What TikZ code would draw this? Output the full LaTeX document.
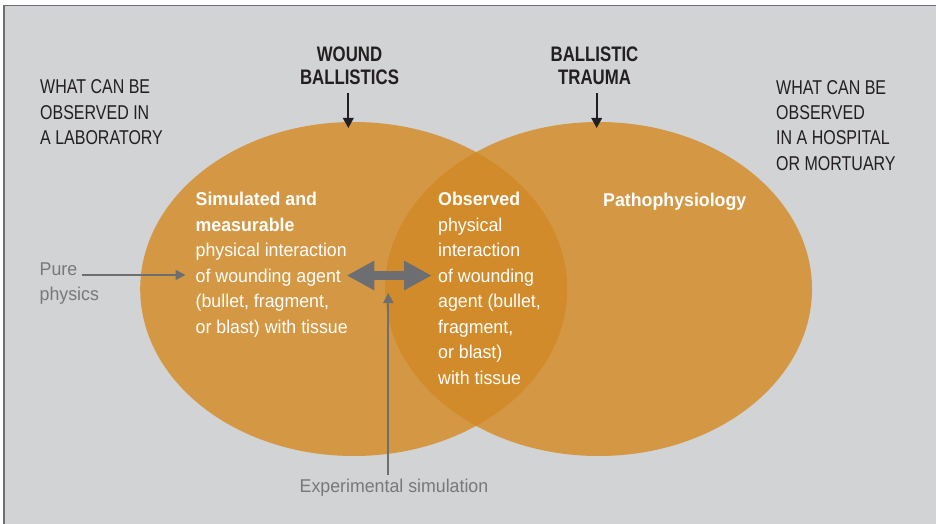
\documentclass[tikz,border=0pt]{standalone}
\usepackage{fontspec}
\setmainfont{Liberation Sans}[FakeStretch=0.96]
\newfontfamily\capsfont{Liberation Sans}[FakeStretch=0.8]
\usetikzlibrary{arrows.meta}

\definecolor{panelgray}{HTML}{D1D3D4}
\definecolor{framegray}{HTML}{6D6E71}
\definecolor{lensorange}{HTML}{D49743}
\definecolor{overlaporange}{HTML}{D18B2A}
\definecolor{notegray}{HTML}{77787B}
\definecolor{inkblack}{HTML}{231F20}

\tikzset{
  caption/.style={anchor=base west, align=left, inner sep=0pt, text=inkblack,
    font=\capsfont\fontsize{20}{25.3}\selectfont},
  heading/.style={anchor=base, align=center, inner xsep=0pt, inner ysep=8pt, text=inkblack,
    font=\capsfont\bfseries\fontsize{21}{24}\selectfont},
  bodytext/.style={anchor=base west, align=left, inner sep=0pt, text=white,
    font=\fontsize{18.5}{25.5}\selectfont},
  note/.style={align=left, inner xsep=0pt, inner ysep=4pt, text=notegray,
    font=\fontsize{18.5}{25}\selectfont},
  blackpointer/.style={draw=inkblack, line width=2pt, -{Triangle[width=10.5pt,length=10pt]}},
  graypointer/.style={draw=framegray, line width=1.8pt, -{Triangle[width=10pt,length=10pt]}},
  twoway/.style={draw=framegray, line width=8.3pt,
    {Triangle[width=27.6pt,length=27.6pt]}-{Triangle[width=27.6pt,length=27.6pt]}},
}

\begin{document}
\begin{tikzpicture}[x=1pt,y=-1pt]
\useasboundingbox (0,0) rectangle (936,524);
\fill[white] (0,0) rectangle (936,524);
\fill[panelgray] (4,5.7) rectangle (936,524);
\draw[framegray, line width=1.2pt] (4,524) -- (4,5.7) -- (936,5.7);

\fill[lensorange] (353.7,289) ellipse [x radius=213.5pt, y radius=167pt];
\fill[lensorange] (598.5,289) ellipse [x radius=213.5pt, y radius=167pt];
\begin{scope}
\clip (353.7,289) ellipse [x radius=213.5pt, y radius=167pt];
\fill[overlaporange] (598.5,289) ellipse [x radius=213.5pt, y radius=167pt];
\end{scope}

\node[caption] (lab) at (40,144.5) {WHAT CAN BE\\OBSERVED IN\\A LABORATORY};
\node[caption] (hosp) at (776,170) {WHAT CAN BE\\OBSERVED\\IN A HOSPITAL\\OR MORTUARY};

\node[heading] (woundhead) at (349.5,85) {WOUND\\BALLISTICS};
\node[heading] (traumahead) at (594.5,85) {BALLISTIC\\TRAUMA};
\coordinate (woundtip) at (348.3,128);
\coordinate (traumatip) at (596.7,128);
\draw[blackpointer] (woundhead.south -| woundtip) -- (woundtip);
\draw[blackpointer] (traumahead.south -| traumatip) -- (traumatip);

\node[bodytext] (simulated) at (195.5,333) {\textbf{Simulated and}\\\textbf{measurable}\\physical interaction\\of wounding agent\\(bullet, fragment,\\or blast) with tissue};
\node[bodytext] (observed) at (438,384) {\textbf{Observed}\\physical\\interaction\\of wounding\\agent (bullet,\\fragment,\\or blast)\\with tissue};
\node[bodytext] (patho) at (603,206.5) {\textbf{Pathophysiology}};

\node[note, anchor=base west, inner ysep=0pt] (pure) at (39.5,300.5) {Pure\\physics};
\coordinate (purestart) at (81.7,275);
\coordinate (puretip) at (185.5,275);
\draw[graypointer] (purestart) -- (puretip);

\coordinate (leftend) at (346.7,275.5);
\coordinate (rightend) at (431.7,275.5);
\draw[twoway] (leftend) -- (rightend);

\node[note, anchor=base] (expsim) at (394,492.7) {Experimental simulation};
\coordinate (simtip) at (388.3,293);
\draw[graypointer] (expsim.north -| simtip) -- (simtip);
\end{tikzpicture}
\end{document}
